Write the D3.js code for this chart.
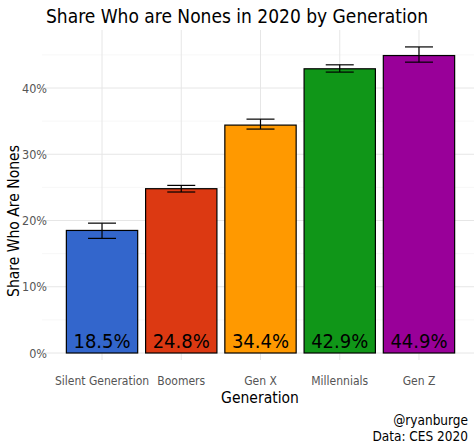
<!DOCTYPE html>
<html lang="en">
<head>
<meta charset="UTF-8">
<script src="https://cdnjs.cloudflare.com/ajax/libs/d3/7.8.4/d3.min.js"></script>
<style>
  body { margin: 0; background: #fff; }
  text { font-family: "Liberation Sans Narrow", "DejaVu Sans Condensed", sans-serif; }
</style>
</head>
<body>
<script>
const generations = ["Silent Generation", "Boomers", "Gen X", "Millennials", "Gen Z"]
const shares = [0.185, 0.248, 0.344, 0.429, 0.449]
const lower = [0.173, 0.243, 0.338, 0.424, 0.439]
const upper = [0.196, 0.253, 0.353, 0.435, 0.462]
const colors = ["#3366cc", "#dc3912", "#ff9900", "#109618", "#990099"]
const yTicks = [0, 0.1, 0.2, 0.3, 0.4]

const W = 474, H = 447
let svg = d3.select("body").append("svg").attr("width", W).attr("height", H)

let x = d3.scaleBand().domain(generations).range([62.4, 458.6]).paddingInner(0.1).paddingOuter(0.05)
let y = d3.scaleLinear().domain([0, 0.4]).range([353, 88])

// grid
let grid = svg.append("g")
grid.selectAll("line.major").data(yTicks).enter().append("line")
  .attr("x1", 42).attr("x2", 474).attr("y1", d => y(d)).attr("y2", d => y(d))
  .attr("stroke", "#e6e6e6").attr("stroke-width", 1)
grid.selectAll("line.minor").data(yTicks.map(d => d + 0.05)).enter().append("line")
  .attr("x1", 42).attr("x2", 474).attr("y1", d => y(d)).attr("y2", d => y(d))
  .attr("stroke", "#f2f2f2").attr("stroke-width", 0.6)
grid.selectAll("line.v").data(generations).enter().append("line")
  .attr("y1", 30).attr("y2", 360).attr("x1", d => x(d) + x.bandwidth() / 2).attr("x2", d => x(d) + x.bandwidth() / 2)
  .attr("stroke", "#e6e6e6").attr("stroke-width", 1)

// bars
svg.selectAll("rect.bar").data(generations).enter().append("rect")
  .attr("x", d => x(d)).attr("width", x.bandwidth())
  .attr("y", (d, i) => y(shares[i])).attr("height", (d, i) => y(0) - y(shares[i]))
  .attr("fill", (d, i) => colors[i]).attr("stroke", "#000").attr("stroke-width", 1.2)

// error bars
let eb = svg.selectAll("g.eb").data(generations).enter().append("g")
  .attr("stroke", "#000").attr("stroke-width", 1.2)
const half = 14
eb.append("line").attr("x1", d => x(d) + x.bandwidth() / 2).attr("x2", d => x(d) + x.bandwidth() / 2)
  .attr("y1", (d, i) => y(lower[i])).attr("y2", (d, i) => y(upper[i]))
eb.append("line").attr("x1", d => x(d) + x.bandwidth() / 2 - half).attr("x2", d => x(d) + x.bandwidth() / 2 + half)
  .attr("y1", (d, i) => y(lower[i])).attr("y2", (d, i) => y(lower[i]))
eb.append("line").attr("x1", d => x(d) + x.bandwidth() / 2 - half).attr("x2", d => x(d) + x.bandwidth() / 2 + half)
  .attr("y1", (d, i) => y(upper[i])).attr("y2", (d, i) => y(upper[i]))

// value labels
svg.selectAll("text.val").data(generations).enter().append("text")
  .attr("x", d => x(d) + x.bandwidth() / 2).attr("y", 348)
  .attr("text-anchor", "middle").attr("font-size", 20).attr("fill", "#000")
  .text((d, i) => (shares[i] * 100).toFixed(1) + "%")

// axes
let yAxis = svg.append("g").attr("transform", "translate(50,0)")
  .call(d3.axisLeft(y).tickValues(yTicks).tickFormat(d3.format(".0%")).tickSize(0))
yAxis.select(".domain").remove()
yAxis.selectAll("text").attr("font-size", 12.5).attr("fill", "#555").attr("font-family", null)

let xAxis = svg.append("g").attr("transform", "translate(0,373)")
  .call(d3.axisBottom(x).tickSize(0))
xAxis.select(".domain").remove()
xAxis.selectAll("text").attr("font-size", 12).attr("fill", "#555").attr("font-family", null)

// titles
svg.append("text").attr("x", 237).attr("y", 23).attr("text-anchor", "middle")
  .attr("font-size", 19).text("Share Who are Nones in 2020 by Generation")
svg.append("text").attr("x", 260).attr("y", 403).attr("text-anchor", "middle")
  .attr("font-size", 15.5).text("Generation")
svg.append("text").attr("transform", "translate(19,221) rotate(-90)").attr("text-anchor", "middle")
  .attr("font-size", 15.5).text("Share Who Are Nones")
svg.append("text").attr("x", 468).attr("y", 425).attr("text-anchor", "end")
  .attr("font-size", 13.5).text("@ryanburge")
svg.append("text").attr("x", 468).attr("y", 441).attr("text-anchor", "end")
  .attr("font-size", 13.5).text("Data: CES 2020")
</script>
</body>
</html>
